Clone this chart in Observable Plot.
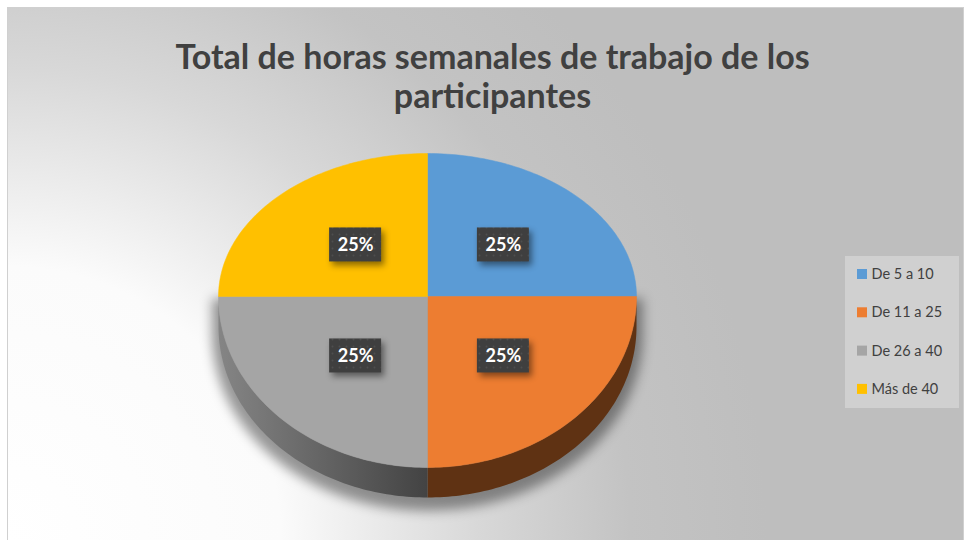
<!DOCTYPE html>
<html><head><meta charset="utf-8">
<script src="https://cdn.jsdelivr.net/npm/d3@7"></script>
<script src="https://cdn.jsdelivr.net/npm/@observablehq/plot@0.6"></script>
<style>html,body{margin:0;padding:0;background:#fff;overflow:hidden;}</style>
</head><body><div id="chart"></div>
<script>
// ---- data ----
const categories = ["De 5 a 10", "De 11 a 25", "De 26 a 40", "Más de 40"];
const values = [25, 25, 25, 25];
const colors = ["#5b9bd5", "#ed7d31", "#a5a5a5", "#ffc000"];
const sideColors = ["#2f5a84", "#5f3213", "url(#graySide)", "#7f6000"];
const titleLines = ["Total de horas semanales de trabajo de los", "participantes"];

// ---- layout ----
const W = 965, H = 540;
const cx = 427, cy = 296, rx = 209, ryTop = 143, ryBot = 171, depth = 30;
const total = d3.sum(values);

function pt(theta, r = 1, dy = 0) {
  const c = Math.cos(theta), s = Math.sin(theta);
  const ry = c > 0 ? ryTop : ryBot;
  return [cx + r * rx * s, cy - r * ry * c + dy];
}
function arc(a0, a1, r = 1, dy = 0, n = 80) {
  const out = [];
  for (let k = 0; k <= n; k++) out.push(pt(a0 + (a1 - a0) * k / n, r, dy));
  return out;
}

// slices
let acc = 0;
const slices = values.map((v, i) => {
  const a0 = acc / total * 2 * Math.PI; acc += v;
  const a1 = acc / total * 2 * Math.PI;
  return {i, a0, a1, v, name: categories[i]};
});

const topPts = [], sidePts = [], labelData = [];
for (const s of slices) {
  const pts = [[cx, cy], ...arc(s.a0, s.a1), [cx, cy]];
  pts.forEach(([x, y]) => topPts.push({x, y, slice: s.i, fill: colors[s.i]}));
  const lo = Math.max(s.a0, Math.PI / 2), hi = Math.min(s.a1, 3 * Math.PI / 2);
  if (hi > lo) {
    const p = [...arc(lo, hi), ...arc(hi, lo, 1, depth)];
    p.forEach(([x, y]) => sidePts.push({x, y, slice: s.i, fill: sideColors[s.i]}));
  }
  const mid = (s.a0 + s.a1) / 2;
  const [lx, ly] = pt(mid, 0.5);
  labelData.push({x: lx + 2, y: ly - 1, text: Math.round(s.v / total * 100) + "%"});
}

// shadow outline (equator line down to the lower face)
const shadowPts = [[cx - rx * 1.03, cy + 2], [cx + rx * 1.03, cy + 2], ...arc(Math.PI / 2, 3 * Math.PI / 2, 1.03, depth + 8)]
  .map(([x, y]) => ({x, y}));

const legendRows = categories.map((c, i) => ({name: c, color: colors[i], y: 274 + i * 38.3}));
const titleData = titleLines.map((t, i) => ({t, x: 492, y: 68 + i * 39}));

function defsMark() {
  const defs = d3.create("svg:defs");
  const bg = defs.append("radialGradient").attr("id", "bg").attr("gradientUnits", "userSpaceOnUse")
    .attr("cx", 7).attr("cy", 540).attr("r", 760);
  [[0, "#ffffff"], [0.36, "#fbfbfb"], [0.62, "#d8d8d8"], [0.82, "#c3c3c3"], [1, "#bebebe"]]
    .forEach(([o, c]) => bg.append("stop").attr("offset", o).attr("stop-color", c));
  const gs = defs.append("linearGradient").attr("id", "graySide").attr("gradientUnits", "userSpaceOnUse")
    .attr("x1", cx - rx).attr("x2", cx).attr("y1", 0).attr("y2", 0);
  gs.append("stop").attr("offset", 0).attr("stop-color", "#858585");
  gs.append("stop").attr("offset", 1).attr("stop-color", "#434343");
  const pat = defs.append("pattern").attr("id", "dots").attr("patternUnits", "userSpaceOnUse")
    .attr("width", 7).attr("height", 7);
  pat.append("rect").attr("width", 7).attr("height", 7).attr("fill", "#3f3f3f");
  pat.append("circle").attr("cx", 3.5).attr("cy", 3.5).attr("r", 1).attr("fill", "#4e4e4e");
  return defs.node();
}

const font = "Lato, 'Open Sans', sans-serif";
const plot = Plot.plot({
  width: W, height: H, margin: 0,
  x: {domain: [0, W], range: [0, W], axis: null},
  y: {domain: [0, H], range: [0, H], axis: null},
  style: {background: "transparent", overflow: "visible"},
  marks: [
    defsMark,
    Plot.rect([{x1: 7.5, x2: 963.5, y1: 7.5, y2: 545}], {x1: "x1", x2: "x2", y1: "y1", y2: "y2", fill: "url(#bg)", stroke: "#d0d0d0", strokeWidth: 1}),
    Plot.line(shadowPts, {x: "x", y: "y", fill: "#000", fillOpacity: 0.4, stroke: "none", imageFilter: "blur(6px)"}),
    Plot.line(sidePts, {x: "x", y: "y", z: "slice", fill: d => d.fill, stroke: "none"}),
    Plot.line(topPts, {x: "x", y: "y", z: "slice", fill: d => d.fill, stroke: d => d.fill, strokeWidth: 0.5}),
    Plot.rect(labelData, {x1: d => d.x - 26, x2: d => d.x + 26, y1: d => d.y - 17, y2: d => d.y + 17, fill: "url(#dots)", imageFilter: "drop-shadow(3px 4px 3px rgba(0,0,0,0.45))"}),
    Plot.text(labelData, {x: "x", y: "y", text: "text", fill: "#fff", fontSize: 18, fontWeight: "bold", fontFamily: font, textAnchor: "middle", lineAnchor: "middle"}),
    Plot.text(titleData, {x: "x", y: "y", text: "t", fill: "#404040", fontSize: 34, fontWeight: "bold", fontFamily: font, textAnchor: "middle", lineAnchor: "bottom"}),
    Plot.rect([{x1: 845, x2: 959, y1: 256, y2: 408}], {x1: "x1", x2: "x2", y1: "y1", y2: "y2", fill: "#ffffff", fillOpacity: 0.28}),
    Plot.rect(legendRows, {x1: 857, x2: 867, y1: d => d.y - 5, y2: d => d.y + 5, fill: "color"}),
    Plot.text(legendRows, {x: 871, y: "y", text: "name", fill: "#404040", fontSize: 14.5, fontFamily: font, textAnchor: "start", lineAnchor: "middle"})
  ]
});
document.getElementById("chart").appendChild(plot);
</script>
</body></html>
